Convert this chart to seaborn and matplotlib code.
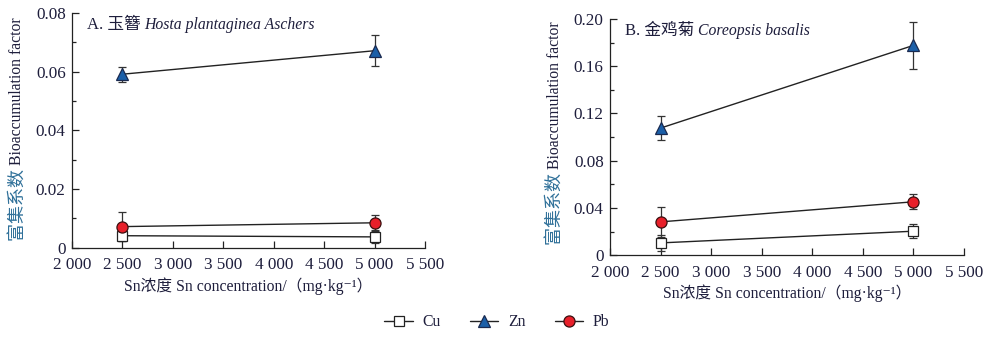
import matplotlib
matplotlib.use("Agg")
import matplotlib.pyplot as plt
import seaborn as sns
import pandas as pd
from matplotlib.ticker import MultipleLocator

# ---------------- data ----------------
conc = [2500, 5000]
elements = ["Cu", "Zn", "Pb"]

A_cu = [0.0041, 0.0037]
A_cu_err = [0.0018, 0.0020]
A_zn = [0.0591, 0.0671]
A_zn_err = [0.0025, 0.0052]
A_pb = [0.0072, 0.0085]
A_pb_err = [0.0050, 0.0026]

B_cu = [0.0104, 0.0203]
B_cu_err = [0.0070, 0.0060]
B_zn = [0.1076, 0.1776]
B_zn_err = [0.0100, 0.0200]
B_pb = [0.0282, 0.0452]
B_pb_err = [0.0130, 0.0063]

x_ticks = [2000, 2500, 3000, 3500, 4000, 4500, 5000, 5500]
x_ticklabels = ["2 000", "2 500", "3 000", "3 500", "4 000", "4 500", "5 000", "5 500"]
A_yticks = [0, 0.02, 0.04, 0.06, 0.08]
A_yticklabels = ["0", "0.02", "0.04", "0.06", "0.08"]
B_yticks = [0, 0.04, 0.08, 0.12, 0.16, 0.20]
B_yticklabels = ["0", "0.04", "0.08", "0.12", "0.16", "0.20"]

titles_cn = ["A. 玉簪 ", "B. 金鸡菊 "]
titles_latin = ["Hosta plantaginea Aschers", "Coreopsis basalis"]
ylabel_cn = "富集系数 "
ylabel_en = "Bioaccumulation factor"
xlabel = "Sn浓度 Sn concentration/（mg·kg⁻¹）"

# ---------------- style ----------------
sns.set_theme(style="ticks")
TXT = "#1e1e3c"
CNCOL = "#2f7099"
FAM = ["Liberation Serif", "Noto Sans CJK SC", "DejaVu Sans"]
plt.rcParams["font.family"] = FAM
plt.rcParams["text.color"] = TXT
plt.rcParams["axes.labelcolor"] = TXT
plt.rcParams["xtick.color"] = "#222222"
plt.rcParams["ytick.color"] = "#222222"
plt.rcParams["xtick.labelcolor"] = TXT
plt.rcParams["ytick.labelcolor"] = TXT

styles = {
    "Cu": dict(marker="s", mfc="white", mec="#222222", ms=7),
    "Zn": dict(marker="^", mfc="#1b5fa8", mec="#1a2a50", ms=9),
    "Pb": dict(marker="o", mfc="#e8202a", mec="#3a1010", ms=8),
}

fig = plt.figure(figsize=(10, 3.38), dpi=100)
axA = fig.add_axes([0.072, 0.267, 0.353, 0.695])
axB = fig.add_axes([0.610, 0.245, 0.354, 0.699])

panels = [
    (axA, {"Cu": (A_cu, A_cu_err), "Zn": (A_zn, A_zn_err), "Pb": (A_pb, A_pb_err)},
     A_yticks, A_yticklabels, 0.08, 0.01),
    (axB, {"Cu": (B_cu, B_cu_err), "Zn": (B_zn, B_zn_err), "Pb": (B_pb, B_pb_err)},
     B_yticks, B_yticklabels, 0.20, 0.02),
]

handles = {}
for i, (ax, series, yt, ytl, ytop, yminor) in enumerate(panels):
    for el in elements:
        vals, errs = series[el]
        df = pd.DataFrame({"conc": conc, "val": vals})
        ax.errorbar(conc, vals, yerr=errs, fmt="none", ecolor="#333333",
                    elinewidth=0.9, capsize=3, capthick=0.9, zorder=1)
        sns.lineplot(data=df, x="conc", y="val", ax=ax, color="#222222",
                     linewidth=1.0, errorbar=None, label=el, legend=False,
                     mew=0.9, zorder=3, **styles[el])
    for ln in ax.get_lines():
        if ln.get_label() in elements:
            handles[ln.get_label()] = ln

    ax.set_xlim(2000, 5500)
    ax.set_ylim(0, ytop)
    ax.set_xticks(x_ticks)
    ax.set_xticklabels(x_ticklabels)
    ax.set_yticks(yt)
    ax.set_yticklabels(ytl)
    ax.yaxis.set_minor_locator(MultipleLocator(yminor))
    ax.tick_params(axis="both", which="major", direction="in", length=5,
                   width=0.9, labelsize=12.3)
    ax.tick_params(axis="x", which="major", pad=7)
    ax.tick_params(axis="y", which="major", pad=4.5)
    ax.tick_params(axis="y", which="minor", direction="in", length=3, width=0.9)
    ax.tick_params(axis="x", which="minor", bottom=False)
    sns.despine(ax=ax)
    for s in ["left", "bottom"]:
        ax.spines[s].set_linewidth(0.9)
        ax.spines[s].set_color("#222222")
    ax.set_xlabel(xlabel, fontsize=11.3, labelpad=2.5, color=TXT)
    ax.set_ylabel("")

    # title (mixed fonts)
    t1 = ax.text(0.042, 0.948, titles_cn[i], transform=ax.transAxes,
                 fontsize=12, va="center", ha="left", family=FAM, color=TXT)
    ax.annotate(titles_latin[i], xy=(1, 0), xycoords=t1, va="bottom", ha="left",
                fontsize=11.3, style="italic", family=["Liberation Serif"], color=TXT)

    # y label (two colours)
    ybot = -0.06 if i == 0 else -0.045
    yl1 = ax.text(-0.155, ybot + 0.09, ylabel_cn, transform=ax.transAxes,
                  rotation=90, fontsize=13, va="bottom", ha="center",
                  family=["Noto Sans CJK SC", "DejaVu Sans"], color=CNCOL)
    ax.annotate(ylabel_en, xy=(0.5, 1), xycoords=yl1, rotation=90,
                va="bottom", ha="center", fontsize=11.3,
                family=["Liberation Serif"], color=TXT)

leg = fig.legend([handles[e] for e in elements], elements, loc="center",
                 bbox_to_anchor=(0.497, 0.047), ncol=3, frameon=False,
                 fontsize=11.3, handlelength=1.8, handletextpad=0.6,
                 columnspacing=1.9)

fig.savefig("out.png", dpi=100)
